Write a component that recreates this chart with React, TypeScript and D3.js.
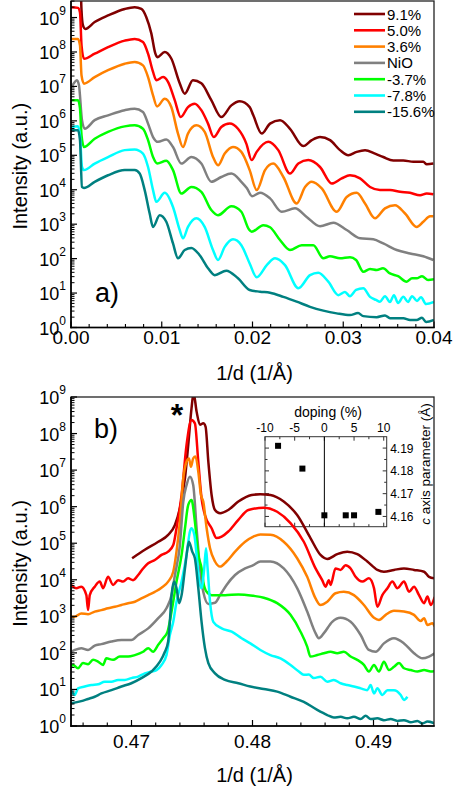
import React from 'react';
import * as d3 from 'd3';

type Pt = [number, number]; // [1/d (1/Å), log10 intensity]

const LABELS = ['9.1%', '5.0%', '3.6%', 'NiO', '-3.7%', '-7.8%', '-15.6%'];
const COLORS = ['#800000', '#ff0000', '#ff8000', '#808080', '#00ff00', '#00ffff', '#008080'];

// ---------- panel a) reflectivity ----------
const A_91: Pt[] = [[0.00105,10.1],[0.00116,9.20],[0.00132,8.77],[0.00158,8.67],[0.00261,8.87],[0.00408,9.06],[0.00592,9.25],[0.00702,9.30],[0.00775,9.25],[0.00830,9.01],[0.00885,8.54],[0.00929,7.96],[0.00951,7.85],[0.01033,8.00],[0.01105,7.81],[0.01198,7.09],[0.01253,6.79],[0.01344,7.18],[0.01436,7.09],[0.01546,6.60],[0.01656,6.11],[0.01767,6.45],[0.01859,6.57],[0.01969,6.40],[0.02009,6.16],[0.02102,5.63],[0.02193,5.92],[0.02303,6.02],[0.02413,5.77],[0.02560,5.27],[0.02653,5.44],[0.02744,5.53],[0.02854,5.44],[0.02964,5.15],[0.03056,5.00],[0.03148,5.10],[0.03240,5.15],[0.03350,5.05],[0.03441,4.95],[0.03552,4.85],[0.03662,4.85],[0.03772,4.81],[0.03882,4.81],[0.03920,4.74],[0.03993,4.76]];
const A_50: Pt[] = [[0,9.30],[0.00077,9.28],[0.00099,9.15],[0.00116,8.19],[0.00143,7.80],[0.00261,7.95],[0.00408,8.14],[0.00592,8.33],[0.00702,8.38],[0.00793,8.29],[0.00849,7.95],[0.00904,7.42],[0.00940,7.18],[0.01014,7.27],[0.01069,7.13],[0.01143,6.60],[0.01209,6.11],[0.01289,6.40],[0.01363,6.50],[0.01436,6.31],[0.01510,5.92],[0.01573,5.53],[0.01656,5.82],[0.01749,5.92],[0.01840,5.77],[0.01932,5.34],[0.01991,4.86],[0.02046,5.10],[0.02174,5.39],[0.02284,5.15],[0.02413,4.47],[0.02505,4.76],[0.02615,4.86],[0.02744,4.66],[0.02873,4.18],[0.02983,4.33],[0.03074,4.42],[0.03185,4.33],[0.03295,4.08],[0.03405,3.99],[0.03515,3.99],[0.03626,3.94],[0.03736,3.91],[0.03846,3.84],[0.03920,3.89],[0.03993,3.87]];
const A_36: Pt[] = [[0,8.38],[0.00077,8.38],[0.00099,8.19],[0.00116,7.32],[0.00143,7.08],[0.00261,7.27],[0.00408,7.47],[0.00592,7.66],[0.00702,7.71],[0.00793,7.61],[0.00849,7.27],[0.00904,6.74],[0.00948,6.42],[0.01033,6.64],[0.01105,6.40],[0.01179,5.63],[0.01234,5.24],[0.01289,5.63],[0.01381,5.87],[0.01473,5.68],[0.01565,4.95],[0.01620,4.71],[0.01694,5.05],[0.01785,5.24],[0.01877,5.10],[0.01969,4.57],[0.02046,3.99],[0.02138,4.57],[0.02229,4.76],[0.02340,4.37],[0.02487,3.60],[0.02579,4.08],[0.02653,4.23],[0.02763,4.04],[0.02928,3.36],[0.03038,3.79],[0.03148,3.91],[0.03240,3.60],[0.03350,3.17],[0.03460,3.46],[0.03570,3.55],[0.03681,3.31],[0.03809,2.92],[0.03882,3.07],[0.03956,3.23],[0.03993,3.23]];
const A_NIO: Pt[] = [[0.00011,7.00],[0.00066,7.18],[0.00088,7.03],[0.00121,6.02],[0.00151,5.77],[0.00261,6.02],[0.00408,6.16],[0.00592,6.31],[0.00702,6.35],[0.00793,6.26],[0.00849,5.92],[0.00904,5.53],[0.00959,5.39],[0.01050,5.46],[0.01124,5.24],[0.01216,4.76],[0.01326,4.95],[0.01436,4.76],[0.01546,4.23],[0.01656,4.37],[0.01767,4.47],[0.01877,4.23],[0.01939,4.04],[0.01995,3.81],[0.02083,3.91],[0.02193,3.75],[0.02322,3.36],[0.02468,3.46],[0.02597,3.21],[0.02744,2.94],[0.02891,3.04],[0.03038,2.83],[0.03185,2.59],[0.03331,2.56],[0.03441,2.44],[0.03589,2.25],[0.03736,2.15],[0.03882,2.07],[0.03993,1.96]];
const A_M37: Pt[] = [[0,6.60],[0.00077,6.60],[0.00099,6.36],[0.00116,5.58],[0.00143,5.24],[0.00261,5.48],[0.00408,5.68],[0.00592,5.84],[0.00702,5.87],[0.00793,5.77],[0.00849,5.44],[0.00904,4.95],[0.00951,4.76],[0.01050,4.84],[0.01124,4.57],[0.01216,3.89],[0.01326,4.08],[0.01436,3.94],[0.01546,3.41],[0.01620,3.26],[0.01767,3.52],[0.01877,3.36],[0.01960,2.85],[0.01991,2.78],[0.02119,2.97],[0.02193,2.91],[0.02303,2.54],[0.02413,2.25],[0.02542,2.39],[0.02670,2.39],[0.02780,2.01],[0.02854,2.07],[0.02964,2.01],[0.03074,2.04],[0.03141,1.96],[0.03221,1.62],[0.03295,1.70],[0.03369,1.67],[0.03438,1.72],[0.03515,1.57],[0.03604,1.49],[0.03699,1.33],[0.03758,1.43],[0.03809,1.43],[0.03868,1.49],[0.03935,1.38],[0.04000,1.40]];
const A_M78: Pt[] = [[0,5.82],[0.00077,5.84],[0.00099,5.58],[0.00121,4.66],[0.00143,4.57],[0.00261,4.76],[0.00408,4.95],[0.00592,5.15],[0.00702,5.17],[0.00793,5.05],[0.00849,4.66],[0.00904,3.99],[0.00940,3.65],[0.01033,3.91],[0.01124,3.50],[0.01198,2.83],[0.01234,2.59],[0.01289,2.92],[0.01381,3.17],[0.01473,2.92],[0.01565,2.25],[0.01620,1.96],[0.01694,2.34],[0.01785,2.56],[0.01877,2.39],[0.01969,1.86],[0.02046,1.46],[0.02157,1.81],[0.02248,2.01],[0.02358,1.81],[0.02505,1.14],[0.02634,1.52],[0.02725,1.59],[0.02835,1.33],[0.02946,0.94],[0.03019,1.03],[0.03074,0.91],[0.03141,1.09],[0.03221,1.14],[0.03295,0.89],[0.03361,0.80],[0.03405,0.75],[0.03460,0.91],[0.03515,0.74],[0.03559,0.94],[0.03604,0.71],[0.03662,0.89],[0.03714,0.74],[0.03758,0.91],[0.03813,0.77],[0.03857,0.88],[0.03912,0.68],[0.04000,0.74]];
const A_M156: Pt[] = [[0,5.73],[0.00077,5.73],[0.00099,5.44],[0.00121,4.08],[0.00143,4.05],[0.00261,4.23],[0.00408,4.42],[0.00592,4.57],[0.00702,4.57],[0.00757,4.47],[0.00812,3.99],[0.00867,3.31],[0.00904,2.92],[0.00977,3.26],[0.01050,3.07],[0.01124,2.44],[0.01179,2.01],[0.01253,2.25],[0.01326,2.31],[0.01418,2.10],[0.01510,1.72],[0.01584,1.52],[0.01711,1.65],[0.01840,1.43],[0.01969,1.09],[0.02083,1.04],[0.02193,1.01],[0.02340,0.89],[0.02487,0.75],[0.02634,0.60],[0.02780,0.49],[0.02928,0.41],[0.03074,0.36],[0.03163,0.42],[0.03221,0.33],[0.03369,0.30],[0.03460,0.35],[0.03515,0.27],[0.03662,0.27],[0.03736,0.22],[0.03809,0.22],[0.03868,0.28],[0.03912,0.16],[0.04000,0.22]];

// ---------- panel b) diffraction ----------
const B_91: Pt[] = [[0.47005,4.59],[0.47110,4.82],[0.47221,5.04],[0.47303,5.23],[0.47359,5.50],[0.47400,5.96],[0.47442,6.78],[0.47469,7.69],[0.47496,8.69],[0.47513,9.11],[0.47538,8.60],[0.47566,8.24],[0.47593,8.28],[0.47612,8.19],[0.47635,7.23],[0.47662,6.32],[0.47690,5.91],[0.47732,5.82],[0.47800,5.91],[0.47883,6.14],[0.47993,6.32],[0.48065,6.34],[0.48148,6.32],[0.48258,6.14],[0.48369,5.77],[0.48479,5.14],[0.48562,4.68],[0.48618,4.57],[0.48700,4.70],[0.48783,4.77],[0.48866,4.70],[0.48949,4.50],[0.49032,4.27],[0.49086,4.22],[0.49169,4.27],[0.49252,4.31],[0.49335,4.27],[0.49418,4.22],[0.49459,4.08],[0.49506,4.04]];
const B_50: Pt[] = [[0.46500,3.86],[0.46544,3.77],[0.46585,3.81],[0.46627,3.58],[0.46641,3.17],[0.46655,3.58],[0.46696,3.81],[0.46738,3.95],[0.46765,3.77],[0.46806,4.08],[0.46848,3.86],[0.46889,3.99],[0.46931,3.95],[0.46972,4.04],[0.47013,3.99],[0.47055,4.13],[0.47096,4.31],[0.47138,4.45],[0.47193,4.54],[0.47248,4.68],[0.47303,4.77],[0.47345,4.95],[0.47372,5.41],[0.47414,6.32],[0.47455,7.69],[0.47496,8.37],[0.47524,8.28],[0.47552,7.23],[0.47579,6.23],[0.47607,5.77],[0.47662,5.41],[0.47703,5.14],[0.47745,5.18],[0.47800,5.32],[0.47883,5.64],[0.47966,5.91],[0.48093,5.97],[0.48204,5.86],[0.48314,5.55],[0.48424,5.04],[0.48521,4.31],[0.48576,3.99],[0.48604,3.81],[0.48631,3.99],[0.48645,3.86],[0.48686,4.31],[0.48728,4.27],[0.48769,4.40],[0.48811,4.31],[0.48852,4.08],[0.48908,3.95],[0.48962,4.04],[0.49004,3.77],[0.49032,3.26],[0.49073,3.58],[0.49115,3.77],[0.49156,3.95],[0.49197,3.77],[0.49252,3.95],[0.49294,3.67],[0.49335,3.81],[0.49376,3.58],[0.49418,3.36],[0.49446,3.54],[0.49473,3.31],[0.49506,3.53]];
const B_36: Pt[] = [[0.46500,2.99],[0.46531,2.99],[0.46585,3.08],[0.46641,3.06],[0.46696,3.13],[0.46751,3.17],[0.46806,3.22],[0.46862,3.26],[0.46917,3.31],[0.46972,3.36],[0.47028,3.40],[0.47082,3.49],[0.47138,3.58],[0.47193,3.67],[0.47248,3.78],[0.47303,3.95],[0.47345,4.22],[0.47372,4.77],[0.47400,5.59],[0.47428,6.78],[0.47455,7.23],[0.47475,7.32],[0.47491,7.09],[0.47510,7.32],[0.47529,7.37],[0.47552,6.96],[0.47574,6.32],[0.47593,6.14],[0.47621,5.41],[0.47649,4.86],[0.47690,4.50],[0.47732,4.36],[0.47786,4.50],[0.47856,4.77],[0.47939,5.04],[0.48007,5.18],[0.48065,5.24],[0.48148,5.23],[0.48258,5.04],[0.48369,4.59],[0.48452,4.08],[0.48521,3.49],[0.48562,3.31],[0.48618,3.40],[0.48686,3.63],[0.48755,3.67],[0.48838,3.58],[0.48921,3.31],[0.49004,2.96],[0.49045,2.90],[0.49101,3.04],[0.49169,3.15],[0.49252,3.13],[0.49335,3.04],[0.49390,2.87],[0.49418,2.95],[0.49446,2.76],[0.49487,2.81],[0.49506,2.72]];
const B_NIO: Pt[] = [[0.46500,2.03],[0.46531,2.08],[0.46585,2.13],[0.46641,2.08],[0.46696,2.20],[0.46751,2.24],[0.46834,2.31],[0.46917,2.35],[0.46999,2.35],[0.47055,2.49],[0.47138,2.67],[0.47221,2.95],[0.47289,3.22],[0.47331,3.58],[0.47359,4.13],[0.47400,4.95],[0.47428,6.14],[0.47455,6.59],[0.47483,6.82],[0.47510,6.59],[0.47538,5.41],[0.47566,4.31],[0.47593,3.67],[0.47635,3.34],[0.47690,3.37],[0.47732,3.58],[0.47786,3.86],[0.47856,4.13],[0.47939,4.31],[0.48007,4.40],[0.48065,4.50],[0.48148,4.50],[0.48258,4.31],[0.48369,3.77],[0.48452,3.13],[0.48521,2.54],[0.48548,2.40],[0.48590,2.54],[0.48659,2.85],[0.48728,2.96],[0.48811,2.85],[0.48894,2.49],[0.48962,2.08],[0.49018,2.03],[0.49086,2.26],[0.49169,2.40],[0.49252,2.26],[0.49335,1.99],[0.49405,1.85],[0.49459,1.90],[0.49506,1.99]];
const B_M37: Pt[] = [[0.46500,1.62],[0.46517,1.67],[0.46558,1.58],[0.46599,1.72],[0.46641,1.69],[0.46682,1.81],[0.46724,1.76],[0.46765,1.67],[0.46792,1.85],[0.46848,1.81],[0.46903,1.90],[0.46972,1.90],[0.47028,1.94],[0.47096,2.03],[0.47138,2.13],[0.47179,2.03],[0.47221,2.22],[0.47262,2.40],[0.47298,2.58],[0.47331,3.13],[0.47372,3.95],[0.47414,4.68],[0.47442,5.41],[0.47469,6.05],[0.47496,6.18],[0.47524,5.59],[0.47552,4.68],[0.47579,4.31],[0.47593,3.95],[0.47621,3.67],[0.47662,3.58],[0.47773,3.58],[0.47883,3.60],[0.48007,3.56],[0.48093,3.51],[0.48204,3.36],[0.48314,3.04],[0.48397,2.58],[0.48452,2.17],[0.48479,1.90],[0.48535,1.94],[0.48590,1.99],[0.48645,2.03],[0.48700,1.99],[0.48755,2.03],[0.48811,1.90],[0.48866,1.81],[0.48921,1.67],[0.48962,1.49],[0.49004,1.67],[0.49045,1.49],[0.49086,1.76],[0.49128,1.53],[0.49169,1.62],[0.49211,1.72],[0.49252,1.58],[0.49308,1.53],[0.49363,1.49],[0.49418,1.53],[0.49473,1.49],[0.49506,1.50]];
const B_M78: Pt[] = [[0.46500,0.98],[0.46531,0.85],[0.46558,1.03],[0.46613,1.08],[0.46668,1.12],[0.46724,1.14],[0.46779,1.21],[0.46834,1.21],[0.46889,1.26],[0.46945,1.26],[0.46999,1.31],[0.47055,1.35],[0.47110,1.44],[0.47165,1.49],[0.47206,1.53],[0.47248,1.67],[0.47289,1.94],[0.47317,2.49],[0.47345,2.85],[0.47372,3.40],[0.47414,3.95],[0.47455,4.68],[0.47483,5.32],[0.47496,5.41],[0.47519,5.23],[0.47538,4.68],[0.47560,3.95],[0.47579,3.77],[0.47601,4.31],[0.47616,4.86],[0.47629,4.31],[0.47649,3.40],[0.47676,2.85],[0.47745,2.67],[0.47828,2.58],[0.47910,2.40],[0.47982,2.26],[0.48065,2.08],[0.48148,1.94],[0.48231,1.85],[0.48314,1.67],[0.48383,1.49],[0.48424,1.40],[0.48465,1.41],[0.48507,1.31],[0.48562,1.35],[0.48618,1.21],[0.48672,1.26],[0.48728,1.17],[0.48783,1.12],[0.48838,1.08],[0.48894,1.03],[0.48949,0.98],[0.48976,1.12],[0.49004,0.89],[0.49032,1.03],[0.49073,0.85],[0.49115,0.98],[0.49169,0.98],[0.49225,0.85],[0.49252,0.71],[0.49280,0.80]];
const B_M156: Pt[] = [[0.46500,0.62],[0.46585,0.68],[0.46641,0.74],[0.46696,0.80],[0.46751,0.89],[0.46834,0.98],[0.46917,1.08],[0.46999,1.17],[0.47082,1.31],[0.47165,1.49],[0.47235,1.76],[0.47276,2.03],[0.47303,2.31],[0.47317,2.85],[0.47331,3.58],[0.47353,3.95],[0.47372,3.77],[0.47394,3.36],[0.47414,3.58],[0.47442,4.31],[0.47463,4.86],[0.47475,5.04],[0.47502,4.77],[0.47524,4.59],[0.47552,3.77],[0.47579,2.85],[0.47607,2.13],[0.47635,1.72],[0.47690,1.44],[0.47773,1.26],[0.47883,1.17],[0.47982,1.08],[0.48093,1.01],[0.48204,0.94],[0.48314,0.80],[0.48424,0.66],[0.48535,0.44],[0.48618,0.30],[0.48672,0.23],[0.48728,0.25],[0.48783,0.21],[0.48838,0.25],[0.48894,0.19],[0.48935,0.28],[0.48976,0.19],[0.49032,0.21],[0.49086,0.16],[0.49142,0.19],[0.49197,0.14],[0.49252,0.16],[0.49308,0.10],[0.49363,0.14],[0.49405,0.07],[0.49446,0.12],[0.49506,0.07]];

// ---------- inset ----------
const DOPING = [-7.8, -3.7, 0, 3.6, 5.0, 9.1];
const C_AXIS = [4.191, 4.181, 4.1605, 4.1605, 4.1605, 4.162];

const A_SERIES = [A_91, A_50, A_36, A_NIO, A_M37, A_M78, A_M156];
const B_SERIES = [B_91, B_50, B_36, B_NIO, B_M37, B_M78, B_M156];
const A_XTICKS = [0, 0.01, 0.02, 0.03, 0.04];
const B_XTICKS = [0.47, 0.48, 0.49];
const DECADES = [0, 1, 2, 3, 4, 5, 6, 7, 8, 9];

const FONT = "'Liberation Sans', Arial, Helvetica, sans-serif";

interface PanelProps {
  id: string;
  l: number; r: number; t: number; b: number;
  xDomain: [number, number];
  yTop: number;
  series: Pt[][];
  majors: number[];
  minorStep: number;
  tickBaseline: number;
  titleBaseline: number;
  children?: React.ReactNode;
  under?: React.ReactNode;
}

function Panel(p: PanelProps) {
  const x = d3.scaleLinear().domain(p.xDomain).range([p.l, p.r]);
  const y = d3.scaleLog().domain([1, p.yTop]).range([p.b, p.t]);
  const line = d3.line<Pt>().x(d => x(d[0])).y(d => y(Math.pow(10, d[1]))).curve(d3.curveMonotoneX);
  const minors: number[] = [];
  const n0 = Math.ceil(p.xDomain[0] / p.minorStep - 1e-6);
  const n1 = Math.floor(p.xDomain[1] / p.minorStep + 1e-6);
  for (let i = n0; i <= n1; i++) {
    const v = i * p.minorStep;
    if (!p.majors.some(m => Math.abs(m - v) < 1e-7)) minors.push(v);
  }
  const yMinor: number[] = [];
  DECADES.forEach(e => { for (let k = 2; k <= 9; k++) { const v = k * Math.pow(10, e); if (v < p.yTop) yMinor.push(v); } });
  return (
    <g>
      <defs>
        <clipPath id={p.id}><rect x={p.l} y={p.t} width={p.r - p.l} height={p.b - p.t} /></clipPath>
      </defs>
      {p.under}
      <g clipPath={`url(#${p.id})`}>
        {p.series.map((s, i) => (
          <path key={i} d={line(s) || ''} fill="none" stroke={COLORS[i]} strokeWidth={2.5} strokeLinejoin="round" />
        ))}
      </g>
      <rect x={p.l} y={p.t} width={p.r - p.l} height={p.b - p.t} fill="none" stroke="#222" strokeWidth={1.3} />
      <line x1={p.l} x2={p.l} y1={p.t} y2={p.b + 0.7} stroke="#000" strokeWidth={1.6} />
      <line x1={p.l - 0.7} x2={p.r + 0.7} y1={p.b} y2={p.b} stroke="#000" strokeWidth={1.6} />
      {p.majors.map(v => (
        <g key={'xm' + v}>
          <line x1={x(v)} x2={x(v)} y1={p.b} y2={p.b - 6} stroke="#000" strokeWidth={1.2} />
          <text x={x(v)} y={p.tickBaseline} textAnchor="middle" fontSize={19} fontFamily={FONT}>{d3.format('.2f')(v)}</text>
        </g>
      ))}
      {minors.map(v => (
        <line key={'xn' + v} x1={x(v)} x2={x(v)} y1={p.b} y2={p.b - 3.5} stroke="#000" strokeWidth={1.1} />
      ))}
      {DECADES.map(e => (
        <g key={'ym' + e}>
          <line x1={p.l} x2={p.l + 6} y1={y(Math.pow(10, e))} y2={y(Math.pow(10, e))} stroke="#000" strokeWidth={1.2} />
          <text x={p.l - 5} y={y(Math.pow(10, e)) + 7} textAnchor="end" fontSize={18} fontFamily={FONT}>
            10<tspan fontSize={12} dy={-10}>{e}</tspan>
          </text>
        </g>
      ))}
      {yMinor.map((v, i) => (
        <line key={'yn' + i} x1={p.l} x2={p.l + 3.5} y1={y(v)} y2={y(v)} stroke="#000" strokeWidth={1} />
      ))}
      <text x={(p.l + p.r) / 2 + 2} y={p.titleBaseline} textAnchor="middle" fontSize={20} fontFamily={FONT}>1/d (1/Å)</text>
      <text transform={`translate(27,${(p.t + p.b) / 2 + 2}) rotate(-90)`} textAnchor="middle" fontSize={20} fontFamily={FONT}>Intensity (a.u.)</text>
      {p.children}
    </g>
  );
}

function Inset() {
  const l = 265, r = 386.7, t = 436.7, b = 526.7;
  const x = d3.scaleLinear().domain([-10, 10.5]).range([l, r]);
  const y = d3.scaleLinear().domain([4.1555, 4.195]).range([b, t]);
  const xMaj = [-10, -5, 0, 5, 10];
  const xMin = [-7.5, -2.5, 2.5, 7.5];
  const yMaj = [4.16, 4.17, 4.18, 4.19];
  const yMin = [4.165, 4.175, 4.185];
  return (
    <g>
      <rect x={l} y={t} width={r - l} height={b - t} fill="none" stroke="#333" strokeWidth={1} />
      {xMaj.map(v => (
        <g key={'a' + v}>
          <line x1={x(v)} x2={x(v)} y1={t} y2={t + 4} stroke="#333" />
          <line x1={x(v)} x2={x(v)} y1={b} y2={b - 4} stroke="#333" />
          <text x={x(v)} y={t - 4.5} textAnchor="middle" fontSize={12} fontFamily={FONT}>{v}</text>
        </g>
      ))}
      {xMin.map(v => (
        <g key={'b' + v}>
          <line x1={x(v)} x2={x(v)} y1={t} y2={t + 2.5} stroke="#333" />
          <line x1={x(v)} x2={x(v)} y1={b} y2={b - 2.5} stroke="#333" />
        </g>
      ))}
      {yMaj.map(v => (
        <g key={'c' + v}>
          <line x1={r} x2={r - 4} y1={y(v)} y2={y(v)} stroke="#333" />
          <line x1={l} x2={l + 4} y1={y(v)} y2={y(v)} stroke="#333" />
          <text x={r + 3.5} y={y(v) + 4.5} fontSize={12} fontFamily={FONT}>{v.toFixed(2)}</text>
        </g>
      ))}
      {yMin.map(v => (
        <g key={'d' + v}>
          <line x1={r} x2={r - 2.5} y1={y(v)} y2={y(v)} stroke="#333" />
          <line x1={l} x2={l + 2.5} y1={y(v)} y2={y(v)} stroke="#333" />
        </g>
      ))}
      <line x1={x(0)} x2={x(0)} y1={t} y2={b} stroke="#000" strokeWidth={1} />
      {DOPING.map((d, i) => (
        <rect key={'p' + i} x={x(d) - 3} y={y(C_AXIS[i]) - 3} width={6} height={6} fill="#000" />
      ))}
      <text x={328} y={417} textAnchor="middle" fontSize={14} fontFamily={FONT}>doping (%)</text>
      <text transform={`translate(430,464) rotate(-90)`} textAnchor="middle" fontSize={13.5} fontFamily={FONT}>
        <tspan fontStyle="italic">c</tspan> axis parameter (Å)
      </text>
    </g>
  );
}

export default function App() {
  return (
    <svg width={469} height={799} viewBox="0 0 469 799"
      style={{ position: 'absolute', left: 0, top: 0, background: '#fff' }}
      fontFamily={FONT}>
      <rect x={0} y={0} width={469} height={799} fill="#fff" />
      <Panel id="clipA" l={71} r={434} t={1} b={327.5} xDomain={[0, 0.04]} yTop={Math.pow(10, 9.48)}
        series={A_SERIES} majors={A_XTICKS} minorStep={0.002} tickBaseline={344} titleBaseline={380}>
        <text x={95} y={302} fontSize={27} fontFamily={FONT}>a)</text>
        {LABELS.map((lab, i) => (
          <g key={lab}>
            <line x1={354} x2={385} y1={14 + i * 16.3} y2={14 + i * 16.3} stroke={COLORS[i]} strokeWidth={2.6} />
            <text x={387} y={14 + i * 16.3 + 5.5} fontSize={15} fontFamily={FONT}>{lab}</text>
          </g>
        ))}
      </Panel>
      <Panel id="clipB" l={71} r={434} t={397} b={726} xDomain={[0.465, 0.495]} yTop={1e9}
        series={B_SERIES} majors={B_XTICKS} minorStep={0.002} tickBaseline={748} titleBaseline={782}
        under={<Inset />}>
        <text x={94} y={438} fontSize={27} fontFamily={FONT}>b)</text>
        <text x={177} y={426} textAnchor="middle" fontSize={32} fontWeight="bold" fontFamily={FONT}>*</text>
      </Panel>
    </svg>
  );
}
